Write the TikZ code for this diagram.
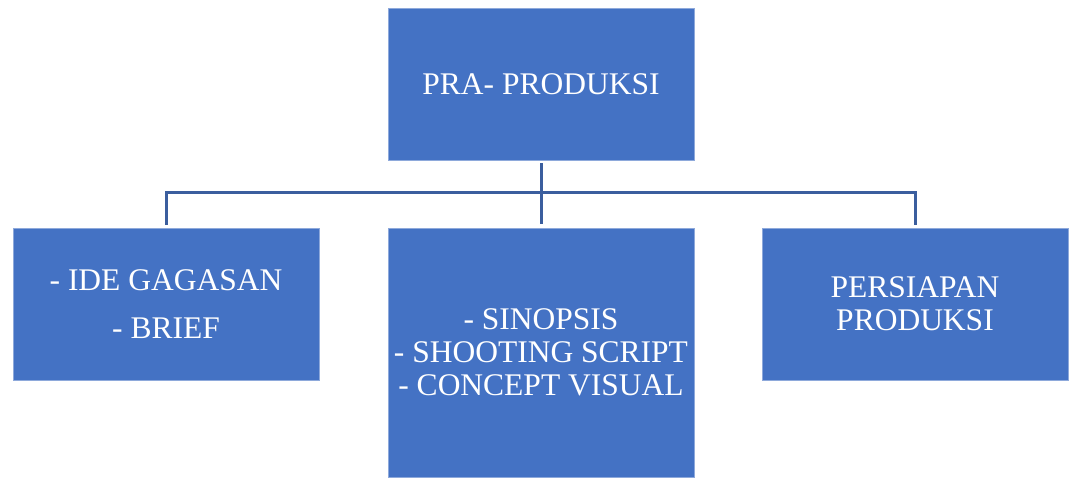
\documentclass[tikz,border=0pt]{standalone}
\usepackage{fontspec}
\setmainfont{Liberation Serif}
\definecolor{boxfill}{HTML}{4472C4}
\definecolor{boxedge}{HTML}{8EA9DB}
\definecolor{linec}{HTML}{3B5E9E}
\begin{document}
\begin{tikzpicture}[x=1pt,y=-1pt,
  box/.style={fill=boxfill,draw=boxedge,line width=0.8pt,text=white,align=center,inner sep=0pt,
    font=\fontsize{31.5}{33}\selectfont},
  conn/.style={draw=linec,line width=3pt}]
\useasboundingbox (0,0) rectangle (1076,478);
\node[box,minimum width=306pt,minimum height=152pt] (top) at (541,84) {PRA- PRODUKSI};
\node[box,minimum width=306pt,minimum height=152pt] (left) at (166,304) {- IDE GAGASAN\\[15pt]- BRIEF};
\node[box,minimum width=306pt,minimum height=249pt] (mid) at (541,352.5) {- SINOPSIS\\- SHOOTING SCRIPT\\- CONCEPT VISUAL};
\node[box,minimum width=306pt,minimum height=152pt] (right) at (915,304) {PERSIAPAN\\PRODUKSI};
\coordinate (j) at (541,193);
\draw[conn] ([yshift=-3pt]top.south) -- ([yshift=4pt]mid.north);
\draw[conn] ([yshift=3pt]left.north) |- (j) -| ([yshift=3pt]right.north);
\end{tikzpicture}
\end{document}
